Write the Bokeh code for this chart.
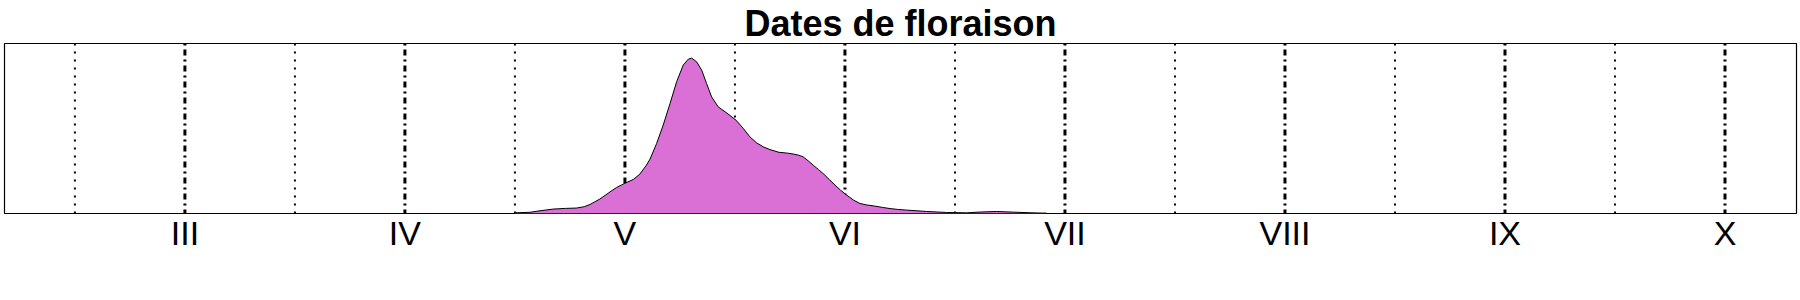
from bokeh.plotting import figure
from bokeh.models import Range1d, Span
from bokeh.embed import file_html
from bokeh.resources import INLINE

title_text = "Dates de floraison"

# month starts (month number) and their roman labels
month_ticks = [3, 4, 5, 6, 7, 8, 9, 10]
month_labels = ["III", "IV", "V", "VI", "VII", "VIII", "IX", "X"]
# mid-month reference lines
mid_month = [2.5, 3.5, 4.5, 5.5, 6.5, 7.5, 8.5, 9.5]

# flowering-date density (x in months, y relative density)
flower_month = [4.50, 4.568, 4.614, 4.674, 4.73, 4.78, 4.815, 4.841, 4.886, 4.932,
                4.962, 5.000, 5.038, 5.068, 5.098, 5.114, 5.144, 5.174, 5.205, 5.235,
                5.265, 5.288, 5.303, 5.326, 5.349, 5.371, 5.394, 5.424, 5.462, 5.505,
                5.538, 5.568, 5.598, 5.629, 5.659, 5.70, 5.74, 5.765, 5.79, 5.81,
                5.833, 5.856, 5.88, 5.901, 5.93, 5.955, 5.98, 6.008, 6.04, 6.068,
                6.10, 6.129, 6.17, 6.205, 6.24, 6.28, 6.371, 6.462, 6.553, 6.62,
                6.689, 6.765, 6.85, 6.917]
flower_density = [0.004, 0.007, 0.016, 0.026, 0.030, 0.032, 0.040, 0.053, 0.085, 0.127,
                  0.153, 0.178, 0.200, 0.232, 0.285, 0.320, 0.412, 0.520, 0.647, 0.775,
                  0.873, 0.908, 0.914, 0.892, 0.843, 0.765, 0.686, 0.627, 0.592, 0.549,
                  0.500, 0.451, 0.416, 0.392, 0.376, 0.360, 0.355, 0.350, 0.343, 0.333,
                  0.310, 0.284, 0.258, 0.235, 0.198, 0.167, 0.137, 0.108, 0.078, 0.059,
                  0.050, 0.045, 0.036, 0.029, 0.024, 0.020, 0.012, 0.006, 0.004, 0.009,
                  0.012, 0.008, 0.004, 0.002]

p = figure(width=1800, height=300, output_backend="svg", toolbar_location=None,
           x_range=Range1d(2.18, 10.325), y_range=Range1d(0, 1),
           min_border_left=4, min_border_right=4, min_border_top=0, min_border_bottom=87)

p.background_fill_color = "white"
p.border_fill_color = "white"
p.outline_line_color = "black"
p.outline_line_width = 1.2
p.xgrid.visible = False
p.ygrid.visible = False
p.yaxis.visible = False

p.title.text = title_text
p.title.align = "center"
p.title.text_font = "Liberation Sans"
p.title.text_font_size = "36px"
p.title.text_font_style = "bold"
p.title.text_color = "black"
p.title.standoff = 0

ax = p.xaxis[0]
ax.ticker = month_ticks
ax.major_label_overrides = {m: l for m, l in zip(month_ticks, month_labels)}
ax.axis_line_color = None
ax.major_tick_line_color = None
ax.minor_tick_line_color = None
ax.major_tick_out = 0
ax.major_tick_in = 0
ax.major_label_standoff = 0
ax.major_label_text_font = "Liberation Sans"
ax.major_label_text_font_size = "34px"
ax.major_label_text_color = "black"

for m in mid_month:
    s = Span(location=m, dimension="height", line_color="black", line_width=2,
             line_dash="2 6", level="underlay")
    p.add_layout(s)
for m in month_ticks:
    s = Span(location=m, dimension="height", line_color="black", line_width=3,
             line_dash="2 4 6 4", level="underlay")
    p.add_layout(s)

p.varea(x=flower_month, y1=0, y2=flower_density, fill_color="#DA70D6", fill_alpha=1.0)
p.line(x=flower_month, y=flower_density, line_color="black", line_width=1)

open("out.html", "w").write(file_html(p, INLINE))
